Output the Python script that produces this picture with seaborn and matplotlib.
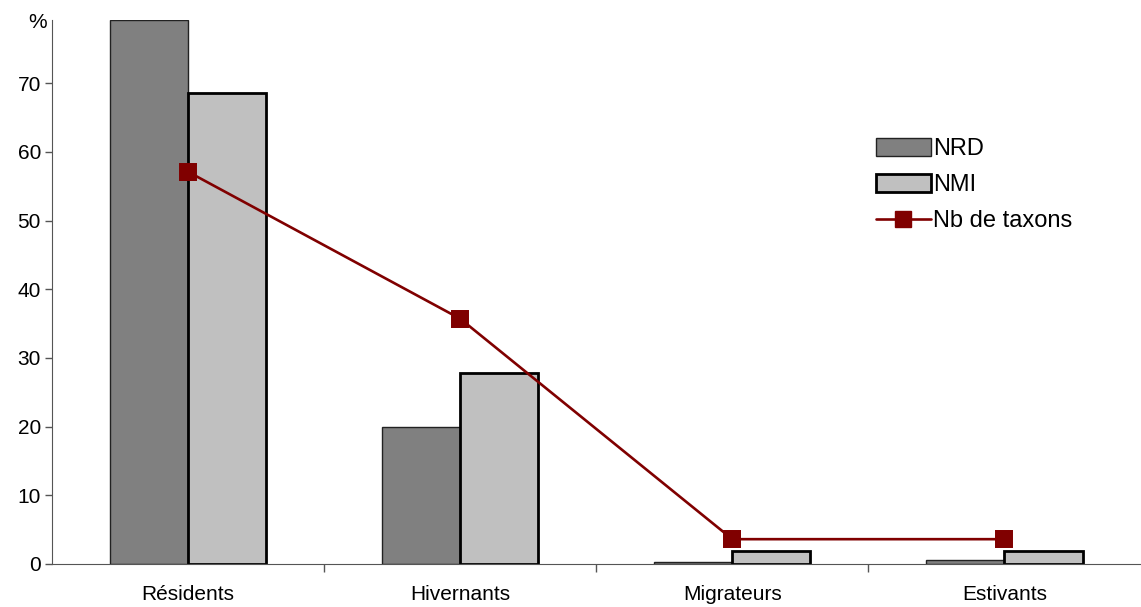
import pandas as pd
import seaborn as sns
import matplotlib.pyplot as plt
from matplotlib.patches import Patch
from matplotlib.lines import Line2D

categories = ['Résidents', 'Hivernants', 'Migrateurs', 'Estivants']
nrd = [79.2, 20.0, 0.3, 0.6]
nmi = [68.6, 27.8, 1.9, 1.9]
nb_taxons = [57.1, 35.7, 3.6, 3.6]

sns.set_style("white")
plt.rcParams['font.family'] = ['Liberation Sans', 'DejaVu Sans']
plt.rcParams['text.color'] = 'black'
plt.rcParams['xtick.color'] = 'black'
plt.rcParams['ytick.color'] = 'black'

df = pd.DataFrame({
    'cat': categories * 2,
    'val': nrd + nmi,
    'serie': ['NRD'] * 4 + ['NMI'] * 4,
})

fig = plt.figure(figsize=(11.41, 6.07), dpi=100)
ax = fig.add_axes([0.0456, 0.071, 0.954, 0.896])

sns.barplot(data=df, x='cat', y='val', hue='serie', order=categories,
            hue_order=['NRD', 'NMI'], palette=['#808080', '#c0c0c0'],
            width=0.574, gap=0, saturation=1, legend=False, ax=ax)
# edges: thin for NRD, thick for NMI
for i, bar in enumerate(ax.patches):
    if i < 4:
        bar.set_edgecolor('#222222')
        bar.set_linewidth(1.0)
    else:
        bar.set_edgecolor('black')
        bar.set_linewidth(2.0)

sns.pointplot(x=categories, y=nb_taxons, color='#800000', markers='s',
              markersize=11, linewidth=1.9, ax=ax)

ax.set_xlim(-0.5, 3.5)
ax.set_ylim(0, 79.2)
ax.set_yticks(range(0, 80, 10))
ax.set_xlabel('')
ax.set_ylabel('')
ax.tick_params(axis='y', direction='out', length=5, width=1, color='#555555',
               labelsize=15, pad=3, left=True)
ax.tick_params(axis='x', length=0, labelsize=15, pad=15)
ax.set_xticks([0.5, 1.5, 2.5], minor=True)
ax.tick_params(axis='x', which='minor', direction='out', length=6, width=1,
               color='#555555', bottom=True)
for side in ['top', 'right']:
    ax.spines[side].set_visible(False)
ax.spines['left'].set_color('#555555')
ax.spines['bottom'].set_color('#555555')
ax.text(-0.005, 0.995, '%', transform=ax.transAxes, ha='right', va='center',
        fontsize=15)

handles = [
    Patch(facecolor='#808080', edgecolor='#222222', linewidth=1.0, label='NRD'),
    Patch(facecolor='#c0c0c0', edgecolor='black', linewidth=2.0, label='NMI'),
    Line2D([0], [0], color='#800000', linewidth=1.9, marker='s',
           markersize=11, label='Nb de taxons'),
]
ax.legend(handles=handles, loc='upper left', bbox_to_anchor=(0.737, 0.822),
          frameon=False, fontsize=17, handlelength=2.35, handleheight=0.75,
          handletextpad=0.1, labelspacing=0.6)

fig.savefig('out.png', dpi=100)
